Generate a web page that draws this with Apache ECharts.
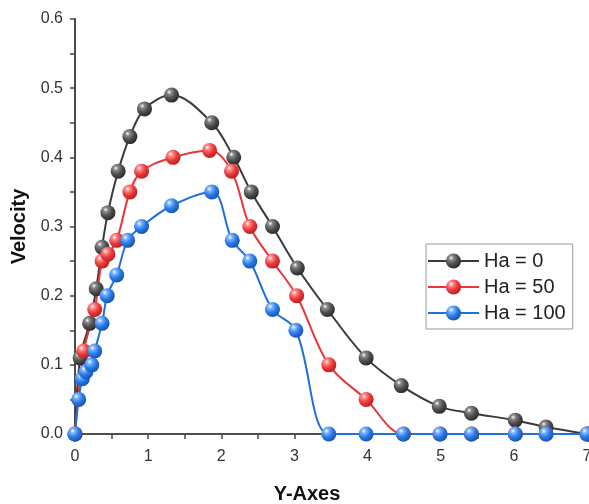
<!DOCTYPE html>
<html>
<head>
<meta charset="utf-8">
<script src="https://cdn.jsdelivr.net/npm/echarts@6/dist/echarts.min.js"></script>
<style>
  html, body { margin: 0; padding: 0; background: #fff; }
  #chart { width: 589px; height: 504px; }
</style>
</head>
<body>
<div id="chart"></div>
<script>
// values: [x, velocity]
const ha0 = [
  [0, 0], [0.07, 0.11], [0.2, 0.16], [0.29, 0.21], [0.37, 0.27], [0.45, 0.32],
  [0.59, 0.38], [0.75, 0.43], [0.95, 0.47], [1.32, 0.49], [1.87, 0.45],
  [2.17, 0.40], [2.41, 0.35], [2.7, 0.30], [3.04, 0.24], [3.45, 0.18],
  [3.98, 0.11], [4.46, 0.07], [4.98, 0.04], [5.42, 0.03], [6.02, 0.02],
  [6.44, 0.01], [7.0, 0.0]
]
const ha50 = [
  [0, 0], [0.12, 0.12], [0.27, 0.18], [0.37, 0.25], [0.45, 0.26], [0.57, 0.28],
  [0.75, 0.35], [0.91, 0.38], [1.34, 0.40], [1.84, 0.41], [2.14, 0.38],
  [2.39, 0.30], [2.7, 0.25], [3.03, 0.20], [3.47, 0.10], [3.98, 0.05],
  [4.49, 0.0], [4.99, 0.0], [5.42, 0.0], [6.02, 0.0], [6.44, 0.0], [7.0, 0.0]
]
const ha100 = [
  [0, 0], [0.05, 0.05], [0.1, 0.08], [0.15, 0.09], [0.23, 0.10], [0.27, 0.12],
  [0.37, 0.16], [0.44, 0.20], [0.57, 0.23], [0.72, 0.28], [0.91, 0.30],
  [1.32, 0.33], [1.87, 0.35], [2.15, 0.28], [2.39, 0.25], [2.7, 0.18],
  [3.02, 0.15], [3.47, 0.0], [3.98, 0.0], [4.49, 0.0], [4.99, 0.0],
  [5.42, 0.0], [6.02, 0.0], [6.44, 0.0], [7.0, 0.0]
]
const seriesNames = ['Ha = 0', 'Ha = 50', 'Ha = 100']

const chart = echarts.init(document.getElementById('chart'))

function sphere(light, mid, dark) {
  return {
    type: 'radial', x: 0.35, y: 0.3, r: 0.75,
    colorStops: [
      { offset: 0, color: '#ffffff' },
      { offset: 0.2, color: light },
      { offset: 0.55, color: mid },
      { offset: 1, color: dark }
    ]
  }
}

function makeSeries(name, data, lineColor, fill) {
  return {
    name: name,
    type: 'line',
    data: data,
    smooth: 0.35,
    symbol: 'circle',
    symbolSize: 15,
    lineStyle: { color: lineColor, width: 2 },
    itemStyle: { color: fill, borderWidth: 0 },
    color: lineColor,
    z: 3
  }
}

const axisText = { color: '#333', fontSize: 16, fontFamily: 'Liberation Sans' }
const axisLine = { lineStyle: { color: '#444', width: 1.6 } }
const titleFont = { color: '#111', fontSize: 20, fontWeight: 'bold', fontFamily: 'Liberation Sans' }

chart.setOption({
  backgroundColor: '#fff',
  animation: false,
  grid: { left: 75, right: 2, top: 19, bottom: 70, outerBoundsMode: 'none' },
  legend: {
    data: seriesNames,
    orient: 'vertical',
    left: 426,
    top: 244,
    itemWidth: 51,
    itemHeight: 19,
    itemGap: 6,
    itemTextGap: 5,
    padding: [7, 7, 6, 1],
    backgroundColor: '#fff',
    borderColor: '#999',
    borderWidth: 1,
    textStyle: { color: '#222', fontSize: 20, fontFamily: 'Liberation Sans' }
  },
  xAxis: [{
    type: 'value',
    min: 0,
    max: 7,
    interval: 1,
    name: 'Y-Axes',
    nameLocation: 'middle',
    nameGap: 50,
    nameTextStyle: Object.assign({ padding: [0, 48, 0, 0] }, titleFont),
    axisLine: axisLine,
    axisTick: { length: 5, lineStyle: { color: '#444', width: 1.5 } },
    minorTick: { show: true, splitNumber: 2, length: 3, lineStyle: { color: '#444', width: 1.5 } },
    axisLabel: Object.assign({ margin: 15 }, axisText),
    splitLine: { show: false }
  }, {
    type: 'value',
    position: 'top',
    min: 0,
    max: 7,
    interval: 0.5,
    axisLine: axisLine,
    axisTick: { inside: true, length: 5, lineStyle: { color: '#444', width: 1.5 } },
    axisLabel: { show: false },
    splitLine: { show: false }
  }],
  yAxis: [{
    type: 'value',
    min: 0,
    max: 0.6,
    interval: 0.1,
    name: 'Velocity',
    nameLocation: 'middle',
    nameRotate: 90,
    nameGap: 40,
    nameTextStyle: titleFont,
    axisLine: axisLine,
    axisTick: { length: 5, lineStyle: { color: '#444', width: 1.5 } },
    minorTick: { show: true, splitNumber: 2, length: 3, lineStyle: { color: '#444', width: 1.5 } },
    axisLabel: Object.assign({ margin: 12, formatter: v => v.toFixed(1) }, axisText),
    splitLine: { show: false }
  }, {
    type: 'value',
    position: 'right',
    min: 0,
    max: 0.6,
    interval: 0.05,
    axisLine: axisLine,
    axisTick: { inside: true, length: 5, lineStyle: { color: '#444', width: 1.5 } },
    axisLabel: { show: false },
    splitLine: { show: false }
  }],
  series: [
    makeSeries(seriesNames[0], ha0, '#3a3a3a', sphere('#8a8a8a', '#505050', '#262626')),
    makeSeries(seriesNames[1], ha50, '#e8363a', sphere('#ff8a8a', '#ec3a3c', '#b81c1e')),
    makeSeries(seriesNames[2], ha100, '#1f6fdc', sphere('#7fb5ff', '#2a7be8', '#1450b0'))
  ]
})
</script>
</body>
</html>
